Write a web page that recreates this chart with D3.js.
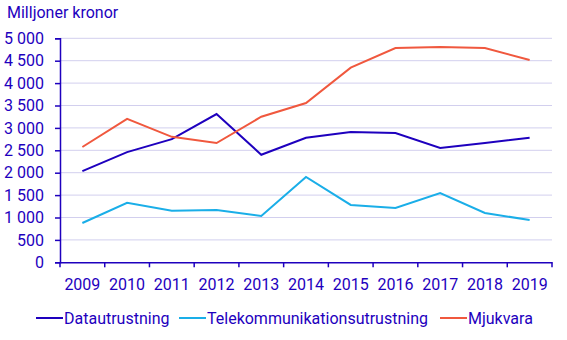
<!DOCTYPE html>
<html><head><meta charset="utf-8">
<script src="https://cdn.jsdelivr.net/npm/d3@7"></script>
<style>body{margin:0;background:#fff;}svg{display:block;font-family:Roboto,sans-serif;}</style>
</head><body><svg id="c" width="567" height="340"></svg>
<script>
const years = ["2009","2010","2011","2012","2013","2014","2015","2016","2017","2018","2019"];
const datautrustning = [2035, 2460, 2750, 3310, 2400, 2780, 2910, 2885, 2550, 2665, 2780];
const telekom = [877, 1330, 1150, 1168, 1034, 1904, 1280, 1212, 1547, 1100, 944];
const mjukvara = [2574, 3200, 2800, 2663, 3250, 3556, 4344, 4783, 4806, 4783, 4516];
const yTicks = [0, 500, 1000, 1500, 2000, 2500, 3000, 3500, 4000, 4500, 5000];
const seriesNames = ["Datautrustning", "Telekommunikationsutrustning", "Mjukvara"];
const seriesColors = ["#1e00be", "#1aaee8", "#f0583e"];
const seriesData = [datautrustning, telekom, mjukvara];

(function(){
const textColor = "#1e00be";
const fs = "16px";
const svg = d3.select("#c");
const mLeft = 60, mRight = 552, mTop = 38.3, mBottom = 262.3;
const x = d3.scaleBand().domain(years).range([mLeft, mRight]);
const y = d3.scaleLinear().domain([0, 5000]).range([mBottom, mTop]);
const fmt = v => v >= 1000 ? d3.format(",")(v).replace(",", "\u00a0") : String(v);

// gridlines
svg.append("g").selectAll("line").data(yTicks.filter(d => d > 0)).join("line")
  .attr("x1", mLeft).attr("x2", mRight)
  .attr("y1", d => y(d)).attr("y2", d => y(d))
  .attr("stroke", "#d2cfee").attr("stroke-width", 1);

// y axis
const ya = svg.append("g").attr("transform", `translate(${mLeft},0)`)
  .call(d3.axisLeft(y).tickValues(yTicks).tickFormat(fmt).tickSize(5).tickPadding(11));
ya.select(".domain").attr("stroke", textColor).attr("stroke-width", 1.5);
ya.selectAll(".tick line").attr("stroke", textColor).attr("stroke-width", 1.5);
ya.selectAll("text").attr("fill", textColor).style("font-size", fs).style("font-family", "Roboto");

// x axis
const xa = svg.append("g").attr("transform", `translate(0,${mBottom})`)
  .call(d3.axisBottom(x).tickSize(0).tickPadding(16));
xa.select(".domain").attr("stroke", textColor).attr("stroke-width", 1.5);
xa.selectAll("text").attr("fill", textColor).style("font-size", fs).style("font-family", "Roboto");
// band boundary ticks
const bounds = years.map(d => x(d)).concat([mRight]);
svg.append("g").selectAll("line").data(bounds).join("line")
  .attr("x1", d => d).attr("x2", d => d)
  .attr("y1", mBottom).attr("y2", mBottom + 5)
  .attr("stroke", textColor).attr("stroke-width", 1.5);

// lines
const line = d3.line().x((d, i) => x(years[i]) + x.bandwidth() / 2).y(d => y(d));
seriesData.forEach((s, k) => {
  svg.append("path").datum(s).attr("d", line)
    .attr("fill", "none").attr("stroke", seriesColors[k]).attr("stroke-width", 2);
});

// title
svg.append("text").attr("x", 7).attr("y", 18).text("Milljoner kronor")
  .attr("fill", textColor).style("font-size", fs);

// legend
const legX = [36, 179, 440];
seriesNames.forEach((n, k) => {
  const g = svg.append("g").attr("transform", `translate(${legX[k]},318)`);
  g.append("line").attr("x1", 0).attr("x2", 27).attr("y1", 0).attr("y2", 0)
    .attr("stroke", seriesColors[k]).attr("stroke-width", 2);
  g.append("text").attr("x", 28).attr("y", 5.5).text(n)
    .attr("fill", textColor).style("font-size", fs);
});
})();
</script></body></html>
